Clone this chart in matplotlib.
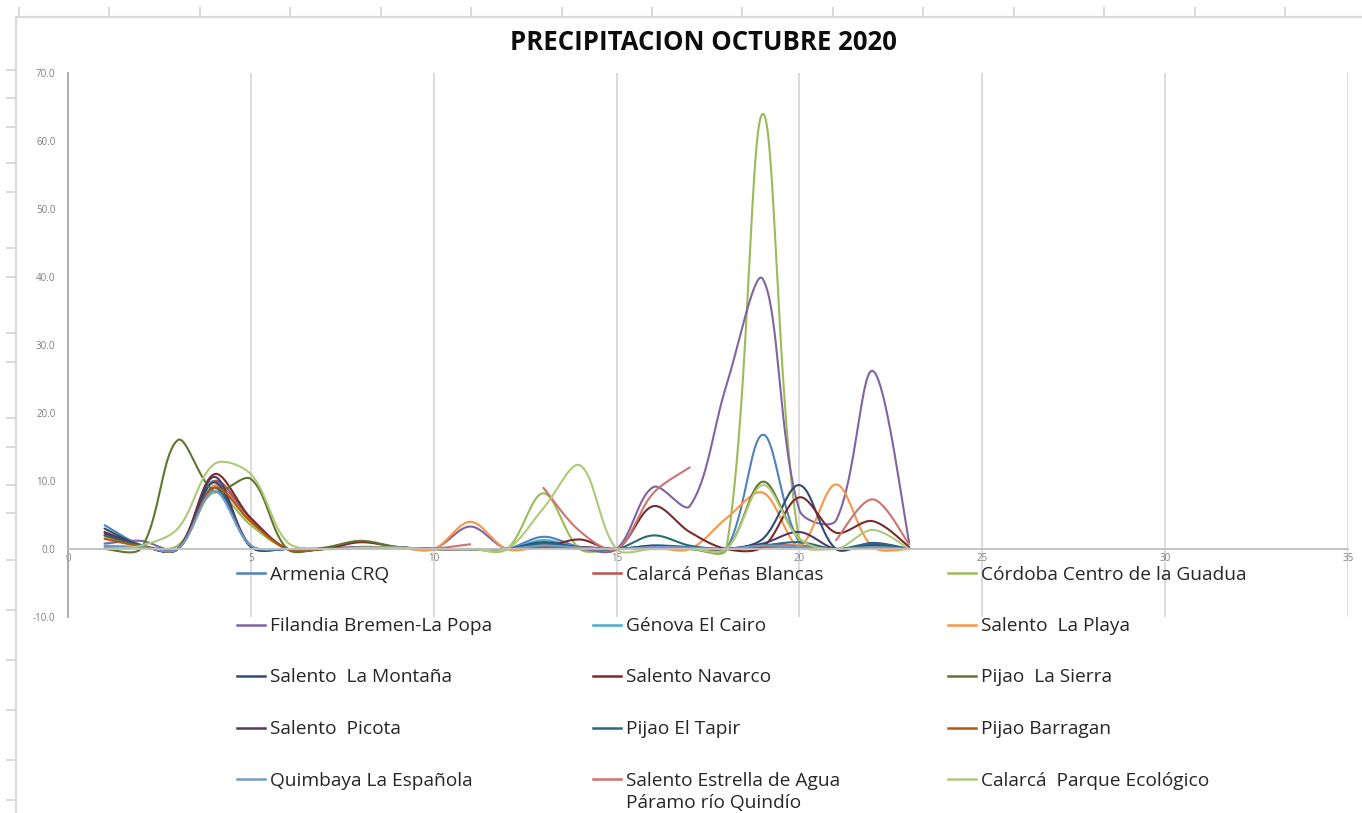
"""
Precipitación diaria de octubre 2020 por estación (líneas suavizadas estilo Excel).
Guarda out.png (1362x813).
"""

import matplotlib

matplotlib.use("Agg")
import matplotlib.pyplot as plt
import numpy as np
from matplotlib.lines import Line2D

plt.rcParams["font.family"] = ["Open Sans", "DejaVu Sans"]

ANCHO_PX, ALTO_PX = 1362, 813

DIAS = list(range(1, 24))

ESTACIONES = [
    "Armenia CRQ", "Calarcá Peñas Blancas", "Córdoba Centro de la Guadua",
    "Filandia Bremen-La Popa", "Génova El Cairo", "Salento  La Playa",
    "Salento  La Montaña", "Salento Navarco", "Pijao  La Sierra",
    "Salento  Picota", "Pijao El Tapir", "Pijao Barragan",
    "Quimbaya La Española", "Salento Estrella de Agua\nPáramo río Quindío",
    "Calarcá  Parque Ecológico",
]

COLORES = [
    "#4F81BD", "#C0504D", "#9BBB59", "#8064A2", "#4BACC6", "#F79646",
    "#2C4D75", "#772C2A", "#5F7530", "#4D3B62", "#276A7C", "#B65708",
    "#729ACA", "#CD7371", "#AFC97A",
]

# mm por día (None = sin dato)
armenia = [3.5, 0.6, 0, 10.0, 0.3, 0, 0.1, 0.2, 0.2, 0, 0, 0, 1.8, 0.3, 0, 0.5, 0.3, 0, 16.8, 1.0, 0, 0.5, 0]
calarca_penas = [2.0, 0.5, 0, 10.0, 4.5, 0, 0, 0.3, 0.2, 0, 0, 0, 0.3, 0.3, 0, 0.3, 0.2, 0, 0.5, 0.5, 0, 0.3, 0]
cordoba = [0, 0.3, 0.5, 8.3, 3.5, 0, 0, 0.3, 0.2, 0, 0, 0, 8.2, 0, 0, 0, 0, 0, 64.0, 1.0, 0, 0.3, 0]
filandia = [0.8, 1.2, 0, 9.3, 4.5, 0, 0.1, 0.3, 0.2, 0, 3.3, 0, 0.5, 0, 0, 9.1, 6.3, 24.0, 39.7, 5.7, 4.2, 26.2, 1.0]
genova = [0.3, 0.3, 0, 8.5, 0.5, 0, 0, 0.2, 0.1, 0, 0, 0, 1.3, 0.2, 0, 0.3, 0.2, 0, 0.5, 0.3, 0, 0.3, 0]
salento_playa = [1.8, 0.5, 0, 9.3, 4.0, 0, 0, 0.2, 0.2, 0, 4.0, 0, 0.3, 0.2, 0, 0.2, 0, 4.5, 8.3, 0.5, 9.5, 0.3, 0]
salento_montana = [3.0, 0.5, 0, 9.8, 0.3, 0, 0, 0.2, 0.2, 0, 0, 0, 1.0, 0.2, 0, 0.5, 0.2, 0, 1.5, 9.4, 0, 0.9, 0]
salento_navarco = [2.5, 0.5, 0, 11.0, 4.5, 0, 0, 1.0, 0.3, 0, 0, 0, 0.3, 1.4, 0, 6.3, 2.5, 0, 0.3, 7.6, 2.4, 4.1, 0.3]
pijao_sierra = [0, 0.1, 16.0, 8.5, 10.3, 0, 0.2, 1.2, 0.3, 0, 0, 0, 0.3, 0.2, 0, 0.2, 0, 0, 9.9, 1.5, 0, 0.3, 0]
salento_picota = [2.3, 0.5, 0, 10.6, 0.4, 0, 0, 0.2, 0.2, 0, 0, 0, 0.5, 0.3, 0, 0.2, 0, 0, 0.8, 2.5, 0, 0.6, 0]
pijao_tapir = [2.0, 0.5, 0, 9.0, 0.5, 0, 0, 0.2, 0.2, 0, 0, 0, 0.8, 0.2, 0, 2.0, 0.5, 0, 0.5, 1.0, 0, 0.8, 0]
pijao_barragan = [1.5, 0.4, 0, 9.0, 4.0, 0, 0, 0.2, 0.2, 0, 0, 0, 0.3, 0.2, 0, 0.2, 0, 0, 0.3, 0.3, 0, 0.2, 0]
quimbaya = [0.5, 0.3, 0, 8.5, 0.5, 0, 0, 0.2, 0.2, 0, 0, 0, 0.5, 0.2, 0, 0.3, 0.2, 0, 0.5, 0.3, 0, 0.3, 0]
salento_estrella = [None] * 9 + [0, 0.7, None, 9.0, 2.6, 0, 8.2, 12.0, None, None, None, 1.3, 7.3, 0.7]
calarca_parque = [0, 0.5, 3.0, 12.5, 11.0, 1.0, 0, 0.2, 0.2, 0, 0, 0, 6.0, 12.3, 0, 0, 0, 0, 9.4, 1.5, 0, 2.8, 0]

SERIES = [
    armenia, calarca_penas, cordoba, filandia, genova, salento_playa,
    salento_montana, salento_navarco, pijao_sierra, salento_picota,
    pijao_tapir, pijao_barragan, quimbaya, salento_estrella, calarca_parque,
]

# geometría (px de la figura)
AX_IZQ, AX_DER, AX_SUP, AX_INF = 68, 1348, 73, 617
X_MAX, Y_MIN, Y_MAX = 35, -10, 70
SX = (AX_DER - AX_IZQ) / X_MAX
SY = (AX_INF - AX_SUP) / (Y_MAX - Y_MIN)


def fx(px):
    return px / ANCHO_PX


def fy(py):
    return 1 - py / ALTO_PX


def _tramos(xs, ys):
    """Corta la serie donde hay huecos (None)."""
    tramo = []
    for x, y in zip(xs, ys):
        if y is None:
            if tramo:
                yield tramo
            tramo = []
        else:
            tramo.append((x, y))
    if tramo:
        yield tramo


def suavizar(puntos, n=40):
    # Bezier cúbica por tramo, tangentes ponderadas por la longitud (en px)
    p = np.array([(x * SX, y * SY) for x, y in puntos])
    k = len(p)
    if k < 2:
        return None
    d = np.hypot(*np.diff(p, axis=0).T)
    t = np.linspace(0, 1, n)[:, None]
    curva = []
    for i in range(k - 1):
        a, b = p[i], p[i + 1]
        if i > 0:
            c1 = a + (p[i + 1] - p[i - 1]) * d[i] / (d[i - 1] + d[i]) / 3
        else:
            c1 = a + (b - a) / 6
        if i + 1 < k - 1:
            c2 = b - (p[i + 2] - p[i]) * d[i] / (d[i] + d[i + 1]) / 3
        else:
            c2 = b - (b - a) / 6
        seg = (1 - t) ** 3 * a + 3 * (1 - t) ** 2 * t * c1 + 3 * (1 - t) * t ** 2 * c2 + t ** 3 * b
        curva.append(seg if i == 0 else seg[1:])
    curva = np.vstack(curva)
    return curva[:, 0] / SX, curva[:, 1] / SY


fig = plt.figure(figsize=(ANCHO_PX / 100, ALTO_PX / 100), dpi=100)

# marco exterior claro (como la hoja de cálculo)
marco = fig.add_axes([fx(16), 0, 1 - fx(16), fy(17)])
marco.set_xlim(16, ANCHO_PX)
marco.set_ylim(ALTO_PX, 17)
for lado in ("right", "bottom"):
    marco.spines[lado].set_visible(False)
for lado in ("top", "left"):
    marco.spines[lado].set_color("#D9D9D9")
    marco.spines[lado].set_linewidth(1.6)
marco.xaxis.tick_top()
marco.set_xticks([18.75 + 90.46 * k for k in range(15)])
marco.set_yticks([70, 98, 127, 163, 192, 248, 277, 333, 362, 418, 447, 485, 513, 560, 610, 660, 710, 760, 800])
marco.tick_params(length=7, width=1.4, color="#D9D9D9", labelleft=False, labeltop=False)
marco.set_zorder(-1)
marco.patch.set_alpha(0)

ax = fig.add_axes([fx(AX_IZQ), fy(AX_INF), fx(AX_DER - AX_IZQ), (AX_INF - AX_SUP) / ALTO_PX])
ax.set_xlim(0, X_MAX)
ax.set_ylim(Y_MIN, Y_MAX)
ax.patch.set_alpha(0)

for serie, color in zip(SERIES, COLORES):
    for tramo in _tramos(DIAS, serie):
        curva = suavizar(tramo)
        if curva is not None:
            ax.plot(*curva, color=color, linewidth=1.5, solid_capstyle="round")

ax.set_xticks(range(0, 36, 5))
ax.set_yticks(range(-10, 71, 10))
ax.set_yticklabels([f"{v:.1f}" for v in range(-10, 71, 10)])
ax.grid(axis="x", color="#D9D9D9", linewidth=1.3)
ax.set_axisbelow(True)
ax.tick_params(axis="both", length=0, labelsize=7, labelcolor="#7F7F7F")
ax.tick_params(axis="y", pad=9)
ax.tick_params(axis="x", pad=3)
ax.spines["top"].set_visible(False)
ax.spines["right"].set_visible(False)
ax.spines["bottom"].set_position(("data", 0))
ax.spines["bottom"].set_color("#BFBFBF")
ax.spines["bottom"].set_linewidth(1.3)
ax.spines["left"].set_color("#A6A6A6")
ax.spines["left"].set_linewidth(1.3)

fig.text(fx(703), fy(43), "PRECIPITACION OCTUBRE 2020", ha="center", va="center",
         fontsize=18.5, fontweight="bold", color="#0D0D0D")

# leyenda en 3 columnas (orden por filas, como Excel)
COL_X = [237, 593, 948]
FILA_Y = [573, 624.5, 676, 727.5, 779]
for i, (nombre, color) in enumerate(zip(ESTACIONES, COLORES)):
    x0 = COL_X[i % 3]
    y0 = FILA_Y[i // 3]
    fig.add_artist(Line2D([fx(x0), fx(x0 + 28)], [fy(y0), fy(y0)], color=color, linewidth=1.8))
    for j, renglon in enumerate(nombre.split("\n")):
        fig.text(fx(x0 + 33), fy(y0 + 6.5 + 22 * j), renglon, ha="left", va="baseline",
                 fontsize=13.8, color="#262626")

fig.savefig("out.png", dpi=100)
